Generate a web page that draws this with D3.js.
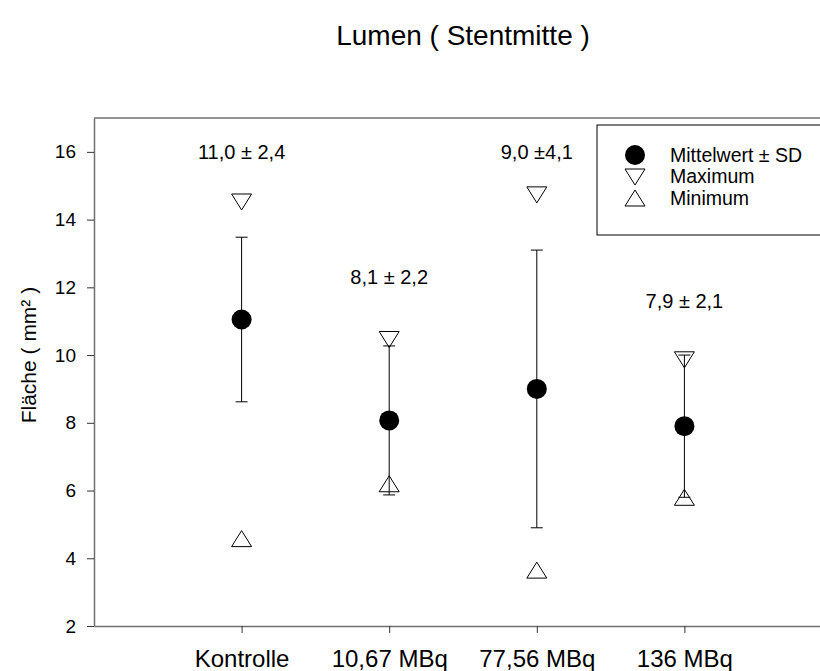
<!doctype HTML>
<html>
<head>
    <style>
        body { margin: 0; background: #fff; }
        svg text { font-family: "Liberation Sans", Arial, sans-serif; fill: #000; }
    </style>
    <script src="https://d3js.org/d3.v7.min.js"></script>
</head>
<body>
<div id="chart"></div>
<script>

    // data
    var groups = ["Kontrolle", "10,67 MBq", "77,56 MBq", "136 MBq"];
    var means = [11.05, 8.07, 9.0, 7.9];
    var sds = [2.43, 2.2, 4.1, 2.1];
    var maxima = [14.52, 10.46, 14.73, 9.86];
    var minima = [4.58, 6.2, 3.65, 5.8];
    var labels = ["11,0 \u00b1 2,4", "8,1 \u00b1 2,2", "9,0 \u00b14,1", "7,9 \u00b1 2,1"];
    var labelValues = [16.0, 12.3, 16.0, 11.6];
    var yTicks = [2, 4, 6, 8, 10, 12, 14, 16];
    var legendItems = ["Mittelwert \u00b1 SD", "Maximum", "Minimum"];

    var canvasWidth = 820;
    var canvasHeight = 671;

    var svg = d3.select("#chart").append("svg")
        .attr("width", canvasWidth)
        .attr("height", canvasHeight);

    var x = d3.scaleLinear().domain([0, 5]).range([94, 832]);
    var y = d3.scaleLinear().domain([2, 17]).range([626, 118]);

    // title
    svg.append("text")
        .attr("x", 463)
        .attr("y", 45)
        .attr("text-anchor", "middle")
        .attr("font-size", "28px")
        .text("Lumen ( Stentmitte )");

    // top frame line
    svg.append("line")
        .attr("x1", x(0)).attr("x2", canvasWidth)
        .attr("y1", y(17)).attr("y2", y(17))
        .attr("stroke", "#707070").attr("stroke-width", 1.5);

    // y axis
    var yAxis = svg.append("g")
        .attr("transform", "translate(" + x(0) + ",0)")
        .call(d3.axisLeft(y).tickValues(yTicks).tickSize(7).tickPadding(11).tickSizeOuter(0));
    yAxis.select(".domain").attr("stroke", "#707070").attr("stroke-width", 1.5);
    yAxis.selectAll(".tick line").attr("stroke", "#333");
    yAxis.selectAll("text").attr("font-size", "19px").attr("font-family", "Liberation Sans, Arial, sans-serif");

    // x axis
    var xAxis = svg.append("g")
        .attr("transform", "translate(0," + y(2) + ")")
        .call(d3.axisBottom(x).tickValues([1, 2, 3, 4])
            .tickFormat(function(d){ return groups[d - 1]; })
            .tickSize(7).tickPadding(17).tickSizeOuter(0));
    xAxis.select(".domain").attr("stroke", "#707070").attr("stroke-width", 1.5);
    xAxis.selectAll(".tick line").attr("stroke", "#333");
    xAxis.selectAll("text").attr("font-size", "24px").attr("font-family", "Liberation Sans, Arial, sans-serif");

    // y axis title
    svg.append("text")
        .attr("transform", "translate(36, " + y(10) + ") rotate(-90)")
        .attr("text-anchor", "middle")
        .attr("font-size", "21px")
        .text("Fläche ( mm² )");

    var idx = d3.range(groups.length);
    var capHalf = 6;

    // error bars
    var bars = svg.append("g").attr("stroke", "#000").attr("stroke-width", 1);
    bars.selectAll(".stem").data(idx).join("line")
        .attr("x1", function(i){ return x(i + 1); })
        .attr("x2", function(i){ return x(i + 1); })
        .attr("y1", function(i){ return y(means[i] + sds[i]); })
        .attr("y2", function(i){ return y(means[i] - sds[i]); });
    bars.selectAll(".capTop").data(idx).join("line")
        .attr("x1", function(i){ return x(i + 1) - capHalf; })
        .attr("x2", function(i){ return x(i + 1) + capHalf; })
        .attr("y1", function(i){ return y(means[i] + sds[i]); })
        .attr("y2", function(i){ return y(means[i] + sds[i]); });
    bars.selectAll(".capBot").data(idx).join("line")
        .attr("x1", function(i){ return x(i + 1) - capHalf; })
        .attr("x2", function(i){ return x(i + 1) + capHalf; })
        .attr("y1", function(i){ return y(means[i] - sds[i]); })
        .attr("y2", function(i){ return y(means[i] - sds[i]); });

    // triangle paths around a centre point
    function triDown(cx, cy) {
        return "M" + (cx - 10) + "," + (cy - 8) + "L" + (cx + 10) + "," + (cy - 8) + "L" + cx + "," + (cy + 8) + "Z";
    }
    function triUp(cx, cy) {
        return "M" + (cx - 10) + "," + (cy + 8) + "L" + (cx + 10) + "," + (cy + 8) + "L" + cx + "," + (cy - 8) + "Z";
    }

    // mean points
    svg.append("g").selectAll("circle").data(idx).join("circle")
        .attr("cx", function(i){ return x(i + 1); })
        .attr("cy", function(i){ return y(means[i]); })
        .attr("r", 10)
        .attr("fill", "#000");

    // maxima and minima
    svg.append("g").selectAll("path").data(idx).join("path")
        .attr("d", function(i){ return triDown(x(i + 1), y(maxima[i])); })
        .attr("fill", "none").attr("stroke", "#000").attr("stroke-width", 1);
    svg.append("g").selectAll("path").data(idx).join("path")
        .attr("d", function(i){ return triUp(x(i + 1), y(minima[i])); })
        .attr("fill", "none").attr("stroke", "#000").attr("stroke-width", 1);

    // mean ± sd labels
    svg.append("g").selectAll("text").data(idx).join("text")
        .attr("x", function(i){ return x(i + 1); })
        .attr("y", function(i){ return y(labelValues[i]); })
        .attr("dy", "0.35em")
        .attr("text-anchor", "middle")
        .attr("font-size", "20px")
        .text(function(i){ return labels[i]; });

    // legend
    var legend = svg.append("g").attr("transform", "translate(597, 125)");
    legend.append("rect")
        .attr("width", 240).attr("height", 110)
        .attr("fill", "#fff").attr("stroke", "#000").attr("stroke-width", 1);
    legend.append("circle").attr("cx", 38).attr("cy", 30).attr("r", 10).attr("fill", "#000");
    legend.append("path").attr("d", triDown(38, 52)).attr("fill", "none").attr("stroke", "#000");
    legend.append("path").attr("d", triUp(38, 73)).attr("fill", "none").attr("stroke", "#000");
    legend.selectAll(".lt").data(legendItems).join("text")
        .attr("x", 73)
        .attr("y", function(d, i){ return 30 + i * 21.5; })
        .attr("dy", "0.35em")
        .attr("font-size", "19.5px")
        .text(function(d){ return d; });

</script>
</body>
</html>
